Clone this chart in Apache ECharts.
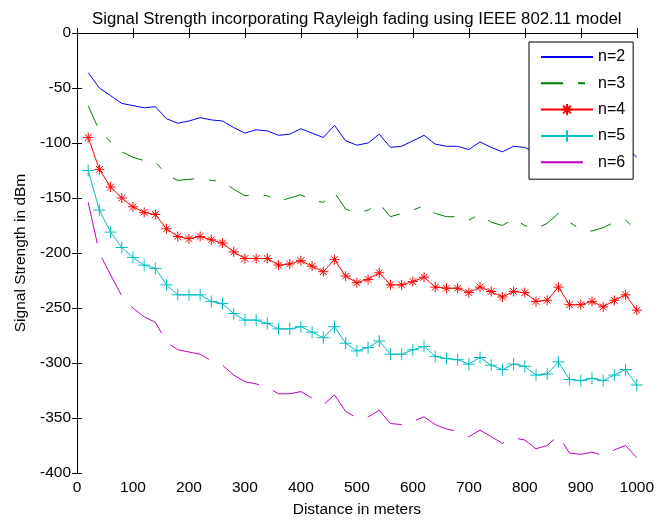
<!DOCTYPE html>
<html>
<head>
<meta charset="utf-8">
<script src="https://cdn.jsdelivr.net/npm/echarts@6/dist/echarts.min.js"></script>
<style>
html,body{margin:0;padding:0;background:#fff;}
#chart{width:657px;height:523px;}
</style>
</head>
<body>
<div id="chart"></div>
<script>
var distance = [20,40,60,80,100,120,140,160,180,200,220,240,260,280,300,320,340,360,380,400,420,440,460,480,500,520,540,560,580,600,620,640,660,680,700,720,740,760,780,800,820,840,860,880,900,920,940,960,980,1000];
var n2 = [-36,-50,-57,-64,-66,-68,-67,-78,-82,-80,-77,-79,-80,-86,-91,-88,-89,-93,-92,-87,-91,-95,-84,-98,-102,-100,-92,-104,-103,-98,-93,-101,-103,-103,-106,-99,-104,-108,-103,-104,-109,-108,-97,-111,-111,-109,-112,-107,-103,-113];
var n3 = [-66,-89,-99,-108,-113,-116,-117,-129,-134,-133,-132,-134,-135,-142,-148,-147,-148,-153,-150,-147,-152,-154,-145,-160,-164,-161,-155,-167,-164,-161,-157,-164,-167,-167,-170,-165,-172,-175,-169,-175,-178,-173,-164,-172,-179,-180,-177,-172,-170,-180];
var n4 = [-95,-124,-140,-150,-158,-163,-165,-178,-185,-187,-185,-188,-191,-199,-205,-205,-205,-211,-210,-207,-212,-217,-206,-221,-227,-224,-218,-229,-229,-226,-222,-231,-232,-232,-236,-231,-235,-240,-235,-236,-244,-243,-231,-247,-247,-244,-249,-243,-238,-252];
var n5 = [-125,-161,-181,-195,-204,-211,-214,-229,-238,-238,-238,-244,-246,-255,-261,-261,-264,-269,-269,-267,-272,-277,-267,-282,-289,-286,-280,-292,-292,-288,-285,-294,-296,-297,-301,-295,-302,-306,-301,-303,-311,-310,-299,-315,-316,-314,-316,-311,-306,-320];
var n6 = [-154,-200,-220,-239,-250,-258,-263,-281,-288,-290,-292,-298,-302,-311,-317,-319,-322,-328,-328,-326,-332,-338,-329,-344,-350,-349,-343,-355,-356,-353,-349,-356,-360,-362,-367,-361,-367,-373,-368,-370,-378,-375,-366,-382,-383,-381,-384,-379,-375,-386];
var seriesNames = ['n=2','n=3','n=4','n=5','n=6'];
var xTicks = {min:0, max:1000, interval:100};
var yTicks = {min:-400, max:0, interval:50};

function pairs(ys){ return distance.map(function(d,i){ return [d, ys[i]]; }); }

var FONT = '"Liberation Sans", Arial, sans-serif';
var STAR = 'path://M5,0L5,10M0,5L10,5M1.6,1.6L8.4,8.4M1.6,8.4L8.4,1.6';
var PLUS = 'path://M5,0L5,10M0,5L10,5';

var chart = echarts.init(document.getElementById('chart'), null, {renderer:'canvas'});
var axisCommon = {
  axisLine:{show:true, lineStyle:{color:'#000', width:1}},
  axisTick:{show:true, inside:true, length:5, lineStyle:{color:'#000', width:1}},
  splitLine:{show:false}
};
function mk(base, extra){ return Object.assign({}, base, extra); }
function plain(v){ return String(v); }

chart.setOption({
  animation:false,
  backgroundColor:'#fff',
  title:{
    text:'Signal Strength incorporating Rayleigh fading using IEEE 802.11 model',
    left:87, top:6,
    textStyle:{fontFamily:FONT, fontSize:16.8, fontWeight:'normal', color:'#000'}
  },
  grid:{left:77, top:33, right:18, bottom:46, containLabel:false},
  legend:{
    left:529, top:42, orient:'vertical',
    padding:[7,8,9,11],
    itemWidth:52, itemHeight:14, itemGap:10.3,
    borderColor:'#000', borderWidth:1, backgroundColor:'#fff',
    textStyle:{fontFamily:FONT, fontSize:16, color:'#000'},
    data:[
      {name:seriesNames[0], itemStyle:{opacity:0}},
      {name:seriesNames[1], itemStyle:{opacity:0}},
      {name:seriesNames[2]},
      {name:seriesNames[3]},
      {name:seriesNames[4], itemStyle:{opacity:0}}
    ]
  },
  xAxis:[
    mk(axisCommon, {type:'value', position:'bottom', min:xTicks.min, max:xTicks.max, interval:xTicks.interval,
      name:'Distance in meters', nameLocation:'middle', nameGap:29,
      nameTextStyle:{fontFamily:FONT, fontSize:15.5, color:'#000'},
      axisLabel:{fontFamily:FONT, fontSize:15.5, color:'#000', margin:7, formatter:plain}}),
    mk(axisCommon, {type:'value', position:'top', min:xTicks.min, max:xTicks.max, interval:xTicks.interval,
      axisLabel:{show:false}})
  ],
  yAxis:[
    mk(axisCommon, {type:'value', position:'left', min:yTicks.min, max:yTicks.max, interval:yTicks.interval,
      name:'Signal Strength in dBm', nameLocation:'middle', nameGap:48,
      nameTextStyle:{fontFamily:FONT, fontSize:15.5, color:'#000'},
      axisLabel:{fontFamily:FONT, fontSize:15.5, color:'#000', margin:6, formatter:plain}}),
    mk(axisCommon, {type:'value', position:'right', min:yTicks.min, max:yTicks.max, interval:yTicks.interval,
      axisLabel:{show:false}})
  ],
  series:[
    {name:seriesNames[0], type:'line', data:pairs(n2), symbol:'none', color:'#0000FF',
     lineStyle:{color:'#0000FF', width:1}},
    {name:seriesNames[1], type:'line', data:pairs(n3), symbol:'none', color:'#008000',
     lineStyle:{color:'#008000', width:1, type:[22,15,7,15]}},
    {name:seriesNames[2], type:'line', data:pairs(n4), symbol:STAR, symbolSize:10, color:'#FF0000',
     itemStyle:{color:'#FF0000', borderColor:'#FF0000', borderWidth:1},
     lineStyle:{color:'#FF0000', width:1}},
    {name:seriesNames[3], type:'line', data:pairs(n5), symbol:PLUS, symbolSize:12, color:'#00BFBF',
     itemStyle:{color:'#00BFBF', borderColor:'#00BFBF', borderWidth:1},
     lineStyle:{color:'#00BFBF', width:1}},
    {name:seriesNames[4], type:'line', data:pairs(n6), symbol:'none', color:'#BF00BF',
     lineStyle:{color:'#BF00BF', width:1, type:[42,15]}}
  ]
});
</script>
</body>
</html>
